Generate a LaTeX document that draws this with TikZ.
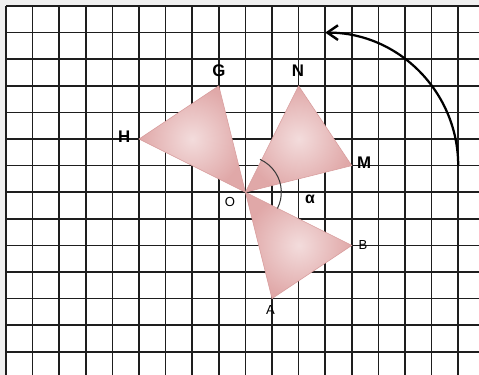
\documentclass[tikz,border=0pt]{standalone}
\usepackage{fontspec}
\setmainfont{Liberation Sans}
\usepackage{tikz}
\usetikzlibrary{arrows.meta}
\definecolor{izgaraSiyah}{HTML}{1E1E1E}
\definecolor{kenarGri}{HTML}{F0F0F0}
\definecolor{pembeAcik}{HTML}{F3DCDC}
\definecolor{pembeKoyu}{HTML}{E0A8A8}
\definecolor{pembeKenar}{HTML}{D89C9C}
\definecolor{yayGri}{HTML}{3A3A3A}

\begin{document}
\begin{tikzpicture}[x=1cm,y=1cm,
  ucgen/.style={draw=pembeKenar,line width=0.6pt,line join=round,
                shading=radial,inner color=pembeAcik,outer color=pembeKoyu},
  buyukHarf/.style={font=\fontsize{18}{20}\selectfont\bfseries,inner sep=0pt},
  kucukHarf/.style={font=\fontsize{14}{16}\selectfont,inner sep=0pt},
  donusOku/.style={line width=2.4pt,-{Straight Barb[length=4mm,width=5.5mm,line width=2.6pt]}}]
\useasboundingbox (-0.2256,0.2256) rectangle (17.782,-13.872);
\fill[kenarGri] (-0.2256,0.2256) rectangle (17.782,-13.872);
\fill[white] (0,0) rectangle (17.782,-13.872);
\draw[izgaraSiyah,line width=1.6pt] (0,-13.872) grid (17.782,0);
% noktalar
\coordinate (O) at (9,-7);
\coordinate (A) at (10,-11);
\coordinate (B) at (13,-9);
\coordinate (M) at (13,-6);
\coordinate (N) at (11,-3);
\coordinate (G) at (8,-3);
\coordinate (H) at (5,-5);
\coordinate (P) at (17,-6);
% ucgenler
\path[ucgen] (O) -- (G) -- (H) -- cycle;
\path[ucgen] (O) -- (M) -- (N) -- cycle;
\path[ucgen] (O) -- (A) -- (B) -- cycle;
% aci yayi
\draw[yayGri,line width=1.1pt] (O) ++(-27:1.35) arc[start angle=-27,end angle=66,radius=1.35];
% donme oku
\draw[donusOku] (P) arc[start angle=0,end angle=90,radius=5];
% etiketler
\node[buyukHarf] (gEt) at (8.0,-2.43) {G};
\node[buyukHarf] (nEt) at (10.98,-2.44) {N};
\node[buyukHarf] (hEt) at (4.44,-4.92) {H};
\node[buyukHarf] (mEt) at (13.46,-5.90) {M};
\node[kucukHarf] (oEt) at (8.42,-7.37) {O};
\node[kucukHarf] (bEt) at (13.42,-8.98) {B};
\node[kucukHarf] (aEt) at (9.94,-11.43) {A};
\node[kucukHarf,font=\fontsize{17}{19}\selectfont\bfseries] (alfa) at (11.43,-7.26) {α};
\end{tikzpicture}
\end{document}
